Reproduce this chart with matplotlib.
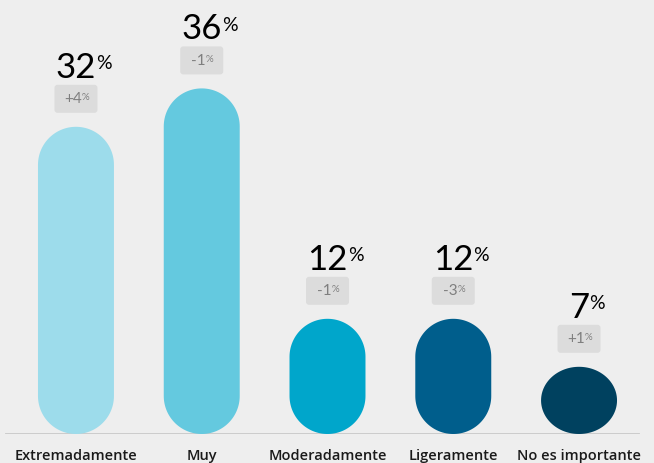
import numpy as np
import matplotlib
matplotlib.use('Agg')
import matplotlib.pyplot as plt
from matplotlib.patches import Polygon, FancyBboxPatch
from matplotlib.transforms import ScaledTranslation

# data
categories = ['Extremadamente', 'Muy', 'Moderadamente', 'Ligeramente', 'No es importante']
values = [32, 36, 12, 12, 7]
changes = ['+4', '-1', '-1', '-3', '+1']
colors = ['#9DDCEB', '#64C9DF', '#00A6CB', '#005E8C', '#00415F']

bg = '#EEEEEE'
plt.rcParams['font.family'] = ['Lato', 'DejaVu Sans']

fig = plt.figure(figsize=(6.54, 4.63), dpi=100, facecolor=bg)
ax = fig.add_axes([0, 29 / 463, 1, 432 / 463])
ax.set_facecolor(bg)
ax.set_xlim(-0.604, 4.596)
ax.set_ylim(0, 45)
for s in ax.spines.values():
    s.set_visible(False)
ax.set_yticks([])
ax.set_xticks(range(len(categories)))
ax.set_xticklabels(categories, fontsize=10.5, color='#1a1a1a',
                   family=['Open Sans', 'DejaVu Sans'], fontweight='semibold')
ax.tick_params(axis='x', length=0, pad=10.5)

ax.axhline(0, xmin=0.009, xmax=0.976, color='#C8C8C8', lw=2, zorder=1)

# pixel scale of data units
p0 = ax.transData.transform((0, 0))
p1 = ax.transData.transform((1, 1))
sx, sy = p1[0] - p0[0], p1[1] - p0[1]

width = 0.604
rx = width / 2
t_top = np.linspace(0, np.pi, 60)
t_bot = np.linspace(np.pi, 2 * np.pi, 60)
for i, (v, c) in enumerate(zip(values, colors)):
    ry = min(rx * sx / sy, v / 2)
    top = np.column_stack([i + rx * np.cos(t_top), v - ry + ry * np.sin(t_top)])
    bot = np.column_stack([i + rx * np.cos(t_bot), ry + ry * np.sin(t_bot)])
    ax.add_patch(Polygon(np.vstack([top, bot]), closed=True, fc=c, ec='none', zorder=2))

    # offset transform in inches from bar top
    trans = fig.dpi_scale_trans + ScaledTranslation(i, v, ax.transData)
    ax.add_patch(FancyBboxPatch((-0.215, 0.14), 0.43, 0.28,
                                boxstyle='round,pad=0,rounding_size=0.03',
                                fc='#DCDCDC', ec='none', transform=trans, zorder=3))
    dt = ax.text(-0.03, 0.275, changes[i], transform=trans, ha='center', va='center',
                 fontsize=11, color='#7F7F7F', zorder=4)
    ax.annotate('%', xy=(1.0, 0.95), xycoords=dt, ha='left', va='top',
                fontsize=7, color='#7F7F7F', zorder=4)
    nt = ax.text(0.0, 0.49, str(v), transform=trans, ha='center', va='baseline',
                 fontsize=25, color='#000000', zorder=4)
    ax.annotate('%', xy=(1.0, 0.9), xycoords=nt, ha='left', va='top',
                fontsize=14, color='#000000', zorder=4)

fig.savefig('out.png', dpi=100, facecolor=bg)
